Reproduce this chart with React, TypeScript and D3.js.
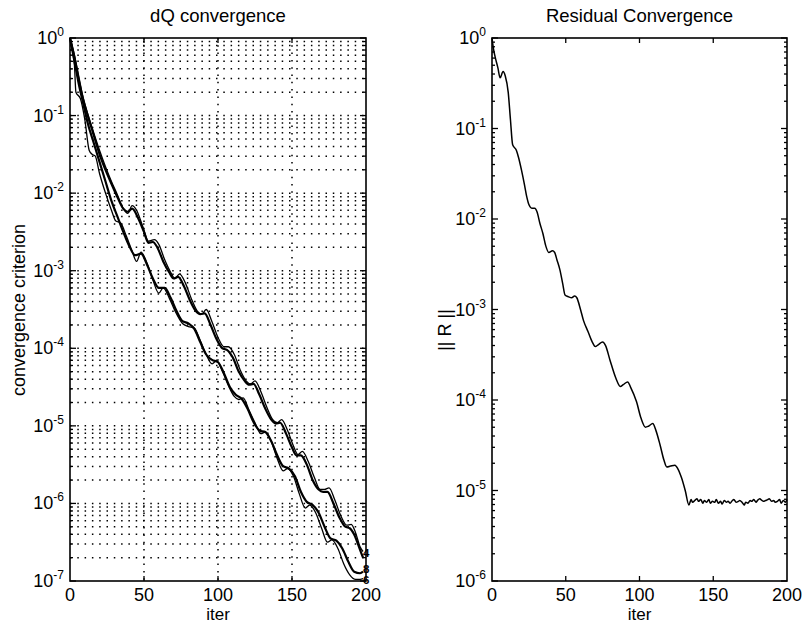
import * as d3 from 'd3';

// iteration axis ticks shared by both panels
const iterTicks = [0, 50, 100, 150, 200];

// decade exponents for the y axes
const dqDecades = [0, -1, -2, -3, -4, -5, -6, -7];
const resDecades = [0, -1, -2, -3, -4, -5, -6];

// dQ convergence curves: [iter, log10(criterion)]
const dqUpperThick: [number, number][] = [
  [0, 0], [3, -0.25], [6, -0.55], [9, -0.8], [12, -1.0], [16, -1.25], [20, -1.5], [24, -1.7],
  [28, -1.88], [32, -2.05], [36, -2.2], [39, -2.24], [42, -2.2], [46, -2.32], [50, -2.5],
  [53, -2.64], [56, -2.63], [59, -2.7], [63, -2.88], [67, -3.02], [70, -3.1], [73, -3.08],
  [77, -3.2], [81, -3.38], [85, -3.52], [88, -3.56], [91, -3.55], [95, -3.7], [99, -3.88],
  [103, -4.0], [106, -4.02], [110, -4.12], [114, -4.3], [118, -4.42], [121, -4.47], [124, -4.46],
  [128, -4.6], [132, -4.78], [136, -4.92], [139, -4.97], [142, -4.96], [146, -5.1], [150, -5.28],
  [153, -5.38], [156, -5.38], [160, -5.5], [164, -5.7], [168, -5.82], [171, -5.85], [174, -5.85],
  [178, -6.0], [182, -6.18], [186, -6.3], [189, -6.32], [192, -6.4], [196, -6.6], [198, -6.7],
];

const dqUpperThin: [number, number][] = [
  [0, 0], [3, -0.22], [6, -0.5], [9, -0.78], [12, -0.98], [16, -1.22], [20, -1.45], [24, -1.66],
  [28, -1.85], [32, -2.02], [36, -2.2], [39, -2.26], [42, -2.16], [45, -2.22], [49, -2.42],
  [53, -2.62], [57, -2.6], [60, -2.66], [64, -2.86], [68, -3.02], [71, -3.1], [74, -3.04],
  [78, -3.16], [82, -3.36], [86, -3.52], [89, -3.56], [92, -3.5], [96, -3.66], [100, -3.86],
  [104, -3.98], [107, -3.98], [111, -4.08], [115, -4.28], [119, -4.42], [122, -4.46], [125, -4.42],
  [129, -4.56], [133, -4.76], [137, -4.92], [140, -4.96], [143, -4.92], [147, -5.06], [151, -5.26],
  [154, -5.37], [157, -5.33], [161, -5.46], [165, -5.66], [169, -5.82], [172, -5.82], [175, -5.8],
  [179, -5.96], [183, -6.16], [187, -6.28], [190, -6.27], [193, -6.38], [196, -6.56], [198, -6.62],
];

const dqLowerThick: [number, number][] = [
  [0, 0], [3, -0.3], [6, -0.6], [9, -0.85], [12, -1.1], [16, -1.35], [20, -1.6], [24, -1.85],
  [28, -2.1], [32, -2.3], [36, -2.5], [40, -2.68], [44, -2.8], [48, -2.78], [52, -2.92],
  [56, -3.1], [60, -3.22], [64, -3.22], [68, -3.35], [72, -3.52], [76, -3.65], [80, -3.68],
  [84, -3.75], [88, -3.92], [92, -4.08], [96, -4.15], [100, -4.18], [104, -4.32], [108, -4.5],
  [112, -4.6], [116, -4.65], [120, -4.78], [124, -4.95], [128, -5.06], [132, -5.08], [136, -5.2],
  [140, -5.38], [144, -5.52], [148, -5.55], [152, -5.65], [156, -5.85], [160, -5.98], [164, -6.02],
  [168, -6.12], [172, -6.3], [176, -6.45], [180, -6.48], [184, -6.58], [188, -6.75], [192, -6.88],
  [196, -6.9], [198, -6.88],
];

const dqLowerThin: [number, number][] = [
  [0, 0], [2, -0.2], [3, -0.35], [4, -0.7], [7, -0.78], [10, -1.05], [13, -1.45], [15, -1.5],
  [17, -1.52], [20, -1.75], [24, -2.0], [28, -2.22], [31, -2.36], [34, -2.38], [38, -2.55],
  [42, -2.75], [45, -2.88], [48, -2.76], [52, -2.9], [56, -3.12], [60, -3.29], [63, -3.22],
  [67, -3.35], [71, -3.52], [76, -3.68], [80, -3.72], [84, -3.74], [88, -3.9], [92, -4.08],
  [96, -4.2], [99, -4.16], [103, -4.3], [107, -4.48], [111, -4.62], [114, -4.66], [117, -4.64],
  [121, -4.8], [125, -4.96], [129, -5.1], [132, -5.08], [136, -5.2], [140, -5.42], [144, -5.58],
  [147, -5.55], [151, -5.65], [155, -5.88], [159, -6.06], [162, -6.02], [166, -6.12], [170, -6.32],
  [174, -6.5], [177, -6.47], [181, -6.58], [185, -6.78], [189, -6.92], [193, -6.98], [196, -6.98],
  [198, -6.97],
];

const dqLabels = ['4', '8', '6'];
const dqLabelLevels = [-6.64, -6.85, -6.99];

// residual norm: [iter, log10 ||R||]
const residual: [number, number][] = [
  [0, 0], [1, -0.12], [2, -0.2], [4, -0.33], [5.5, -0.44], [7.5, -0.37], [9, -0.42], [11, -0.6],
  [12.5, -0.9], [14, -1.18], [16.5, -1.24], [18, -1.32], [20, -1.46], [22, -1.62], [23.5, -1.75],
  [25, -1.84], [27, -1.88], [29, -1.88], [30.5, -1.92], [32.5, -2.05], [34.5, -2.16], [36.5, -2.3],
  [38.5, -2.37], [41, -2.35], [42.5, -2.37], [44, -2.45], [46, -2.56], [48, -2.72], [49.5, -2.84],
  [52, -2.86], [54, -2.87], [56, -2.85], [57.5, -2.87], [60, -3.0], [62, -3.12], [65, -3.24],
  [68, -3.36], [70, -3.41], [72, -3.39], [75, -3.36], [77, -3.4], [80, -3.56], [84, -3.76],
  [87, -3.85], [89, -3.83], [92, -3.8], [94, -3.86], [98, -4.02], [101, -4.2], [104, -4.3],
  [106, -4.29], [109, -4.26], [111, -4.33], [114, -4.5], [116.5, -4.66], [118.5, -4.74],
  [121, -4.73], [124, -4.72], [126, -4.76], [128.5, -4.86], [131, -5.0], [133.5, -5.16],
  [135, -5.1], [136, -5.13], [137.5, -5.11], [139, -5.09], [140, -5.12], [141.5, -5.1],
  [143, -5.14], [144, -5.11], [145.5, -5.13], [147, -5.1], [148, -5.14], [149.5, -5.12],
  [151, -5.13], [152, -5.1], [153.5, -5.14], [155, -5.12], [156, -5.15], [157.5, -5.11],
  [159, -5.13], [160, -5.12], [161.5, -5.14], [163, -5.11], [164, -5.1], [165.5, -5.13],
  [167, -5.12], [168, -5.11], [169.5, -5.13], [171, -5.16], [172, -5.13], [173.5, -5.14],
  [175, -5.11], [176, -5.12], [177.5, -5.1], [179, -5.13], [180, -5.11], [181.5, -5.09],
  [183, -5.11], [184, -5.12], [185.5, -5.11], [187, -5.1], [188, -5.09], [189.5, -5.12],
  [191, -5.11], [192, -5.13], [193.5, -5.12], [195, -5.1], [196, -5.14], [197.5, -5.11],
  [199, -5.13], [200, -5.1],
];

const FONT = '"Liberation Sans", Arial, Helvetica, sans-serif';

type Series = { data: [number, number][]; width: number };

type PanelProps = {
  left: number;
  right: number;
  top: number;
  bottom: number;
  title: string;
  ylabel: string;
  ylabelX: number;
  ylabelY: number;
  decades: number[];
  series: Series[];
  grid: boolean;
  endLabels?: string[];
  endLevels?: number[];
};

function Panel(props: PanelProps) {
  const { left, right, top, bottom, title, ylabel, ylabelX, ylabelY, decades, series, grid } = props;
  const minExp = d3.min(decades) as number;
  const maxExp = d3.max(decades) as number;
  const x = d3.scaleLinear().domain([0, 200]).range([left, right]);
  const y = d3.scaleLog().domain([Math.pow(10, minExp), Math.pow(10, maxExp)]).range([bottom, top]);
  const allTicks = y.ticks();
  const minor = allTicks.filter((t) => {
    const m = t / Math.pow(10, Math.floor(Math.log10(t) + 1e-9));
    return Math.abs(m - 1) > 1e-6;
  });
  const line = d3
    .line<[number, number]>()
    .x((d) => x(d[0]))
    .y((d) => y(Math.pow(10, d[1])))
    .curve(d3.curveMonotoneX);
  const midX = (left + right) / 2;

  return (
    <g>
      <text x={midX} y={22} textAnchor="middle" fontSize={18.5} fontFamily={FONT}>
        {title}
      </text>

      {grid ? (
        <g stroke="#000" strokeWidth={1.5} strokeDasharray="1.5 5.8">
          {iterTicks.slice(1, -1).map((t) => (
            <line key={'gx' + t} x1={x(t)} x2={x(t)} y1={top} y2={bottom} />
          ))}
          {allTicks
            .filter((t) => y(t) > top + 0.5 && y(t) < bottom - 0.5)
            .map((t, i) => (
              <line key={'gy' + i} x1={left} x2={right} y1={y(t)} y2={y(t)} />
            ))}
        </g>
      ) : null}

      <g stroke="#000" strokeWidth={1.3}>
        {iterTicks.slice(1, -1).map((t) => (
          <g key={'xt' + t}>
            <line x1={x(t)} x2={x(t)} y1={bottom} y2={bottom - 5} />
            <line x1={x(t)} x2={x(t)} y1={top} y2={top + 5} />
          </g>
        ))}
        {decades.map((e) => (
          <g key={'yt' + e}>
            <line x1={left} x2={left + 6} y1={y(Math.pow(10, e))} y2={y(Math.pow(10, e))} />
            <line x1={right} x2={right - 6} y1={y(Math.pow(10, e))} y2={y(Math.pow(10, e))} />
          </g>
        ))}
        {minor.map((t, i) => (
          <g key={'ym' + i}>
            <line x1={left} x2={left + 3} y1={y(t)} y2={y(t)} />
            <line x1={right} x2={right - 3} y1={y(t)} y2={y(t)} />
          </g>
        ))}
      </g>

      {series.map((s, i) => (
        <path key={'s' + i} d={line(s.data) || ''} fill="none" stroke="#000" strokeWidth={s.width} strokeLinejoin="round" />
      ))}

      <rect x={left} y={top} width={right - left} height={bottom - top} fill="none" stroke="#000" strokeWidth={1.6} />

      {props.endLabels
        ? props.endLabels.map((lab, i) => (
            <text
              key={'el' + i}
              x={right - 3}
              y={y(Math.pow(10, (props.endLevels as number[])[i])) + 4}
              fontSize={11.5}
              fontWeight="bold"
              fontFamily={FONT}
            >
              {lab}
            </text>
          ))
        : null}

      {decades.map((e) => (
        <text key={'yl' + e} x={left - 6} y={y(Math.pow(10, e)) + 6} textAnchor="end" fontSize={18} fontFamily={FONT}>
          <tspan>10</tspan>
          <tspan dy={-8} fontSize={12}>
            {String(e)}
          </tspan>
        </text>
      ))}

      {iterTicks.map((t) => (
        <text key={'xl' + t} x={x(t)} y={bottom + 20} textAnchor="middle" fontSize={18} fontFamily={FONT}>
          {t}
        </text>
      ))}

      <text x={midX} y={bottom + 39} textAnchor="middle" fontSize={17} fontFamily={FONT}>
        iter
      </text>

      <text
        transform={`translate(${ylabelX},${ylabelY}) rotate(-90)`}
        textAnchor="middle"
        fontSize={18}
        fontFamily={FONT}
      >
        {ylabel}
      </text>
    </g>
  );
}

export default function App() {
  return (
    <svg
      width={803}
      height={624}
      style={{ position: 'absolute', left: 0, top: 0, background: '#fff' }}
    >
      <rect width={803} height={624} fill="#fff" />
      <Panel
        left={70}
        right={366}
        top={38}
        bottom={581}
        title="dQ convergence"
        ylabel="convergence criterion"
        ylabelX={25}
        ylabelY={310}
        decades={dqDecades}
        grid={true}
        series={[
          { data: dqUpperThin, width: 1.3 },
          { data: dqUpperThick, width: 2.2 },
          { data: dqLowerThin, width: 1.3 },
          { data: dqLowerThick, width: 2.2 },
        ]}
        endLabels={dqLabels}
        endLevels={dqLabelLevels}
      />
      <Panel
        left={492}
        right={787}
        top={38}
        bottom={581}
        title="Residual Convergence"
        ylabel="|| R ||"
        ylabelX={451}
        ylabelY={330}
        decades={resDecades}
        grid={false}
        series={[{ data: residual, width: 1.5 }]}
      />
    </svg>
  );
}
